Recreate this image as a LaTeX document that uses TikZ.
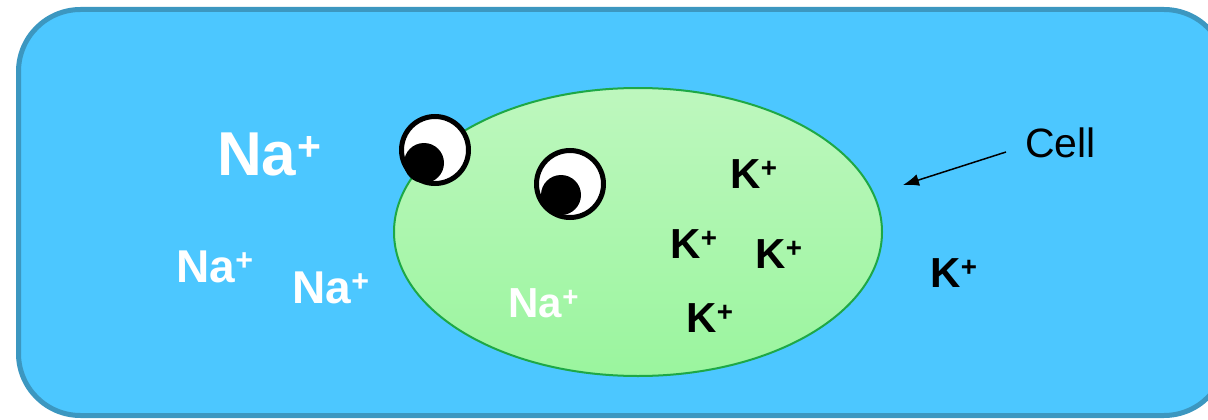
\documentclass[tikz,border=0pt]{standalone}
\usepackage{fontspec}
\setmainfont{Liberation Sans}
\usepackage{graphicx}
\usetikzlibrary{arrows.meta}
\definecolor{water}{RGB}{76,199,255}
\definecolor{waterline}{RGB}{60,151,192}
\definecolor{celltop}{RGB}{190,247,190}
\definecolor{cellbottom}{RGB}{154,245,158}
\definecolor{membrane}{RGB}{30,168,70}
\newcommand{\ion}[1]{#1\hspace{0.01em}\raisebox{0.24em}{\scalebox{0.66}{+}}}
\newcommand{\ionsize}[1]{\fontsize{#1}{#1}\selectfont\bfseries}
\tikzstyle{sodium} = [text=white, anchor=base west, inner sep=0pt]
\tikzstyle{potassium} = [text=black, font=\ionsize{42}, anchor=base west, inner sep=0pt]
\tikzstyle{eyeball} = [fill=white, draw=black, line width=5pt]
\tikzstyle{pupil} = [fill=black]
\tikzstyle{pointer} = [draw=black, line width=1.5pt, -{Latex[length=16pt,width=12pt]}]

\begin{document}
\begin{tikzpicture}[x=1pt,y=-1pt]
\useasboundingbox (0,0) rectangle (1208,420);
\begin{scope}
\clip (0,0) rectangle (1208,420);
% the solution round the cell
\draw[fill=water, draw=waterline, line width=5pt, rounded corners=62pt] (18.5,9.5) rectangle (1226,415.5);
\end{scope}

% the cell
\draw[top color=celltop, bottom color=cellbottom, draw=membrane, line width=2pt] (638,232) ellipse (244 and 144);

% eyes
\draw[eyeball] (435,150) circle (33.5);
\fill[pupil] (424,163) circle (20);
\draw[eyeball] (570,184) circle (33.5);
\fill[pupil] (561,195) circle (20);

% sodium ions
\node[sodium, font=\ionsize{62}] (na1) at (217,175) {\ion{Na}};
\node[sodium, font=\ionsize{46}] (na2) at (176,282) {\ion{Na}};
\node[sodium, font=\ionsize{46}] (na3) at (292,303) {\ion{Na}};
\node[sodium, font=\ionsize{42}] (na4) at (508,317) {\ion{Na}};

% potassium ions
\node[potassium] (k1) at (730,188) {\ion{K}};
\node[potassium] (k2) at (670,258) {\ion{K}};
\node[potassium] (k3) at (755,268) {\ion{K}};
\node[potassium] (k4) at (686,332) {\ion{K}};
\node[potassium] (k5) at (930,287) {\ion{K}};

% label
\node[anchor=base west, inner sep=0pt, font=\fontsize{41}{41}\selectfont] (celllabel) at (1025,157) {Cell};
\coordinate (tail) at (1006,152);
\coordinate (tip) at (903,185);
\draw[pointer] (tail) -- (tip);
\end{tikzpicture}
\end{document}
